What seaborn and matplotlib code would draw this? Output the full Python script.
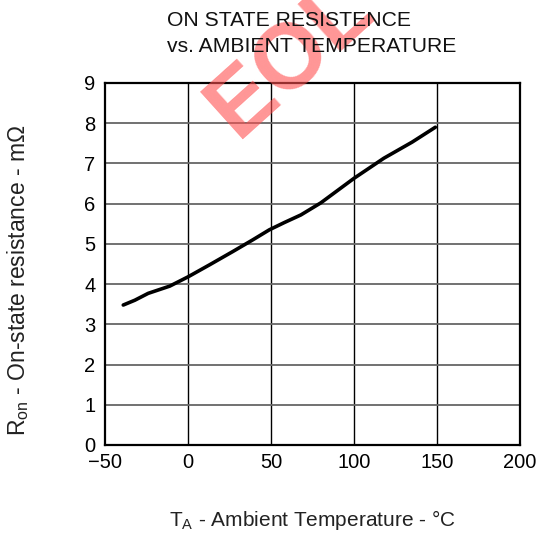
import matplotlib
matplotlib.use("Agg")
import matplotlib.pyplot as plt
import seaborn as sns
import pandas as pd

temperature = [-39, -32, -24, -11, 0, 13, 27, 39, 49, 58, 68, 80, 100, 118, 135, 149]
resistance = [3.48, 3.60, 3.77, 3.95, 4.18, 4.48, 4.81, 5.10, 5.35, 5.53, 5.72, 6.02, 6.63, 7.13, 7.53, 7.90]
x_ticks = [-50, 0, 50, 100, 150, 200]
x_tick_labels = ["\u221250", "0", "50", "100", "150", "200"]
y_ticks = [0, 1, 2, 3, 4, 5, 6, 7, 8, 9]

sns.set_theme(style="white")
plt.rcParams['font.family'] = ['Liberation Sans', 'DejaVu Sans']
plt.rcParams['mathtext.fontset'] = 'custom'
plt.rcParams['mathtext.rm'] = 'Liberation Sans'

df = pd.DataFrame({"T": temperature, "R": resistance})

fig = plt.figure(figsize=(5.41, 5.41), dpi=100)
ax = fig.add_axes([105/541, (541-445)/541, (520-105)/541, (445-83)/541])

sns.lineplot(data=df, x="T", y="R", ax=ax, color="black", linewidth=2.6, sort=False)

ax.set_xlim(-50, 200)
ax.set_ylim(0, 9)
ax.set_xticks(x_ticks)
ax.set_xticklabels(x_tick_labels)
ax.set_yticks(y_ticks)
ax.tick_params(axis="both", length=0, labelsize=14.5, colors="black")
ax.tick_params(axis="x", pad=6)
ax.tick_params(axis="y", pad=7)
for x in x_ticks[1:-1]:
    ax.axvline(x, color="black", linewidth=1.0, zorder=1)
for y in y_ticks[1:-1]:
    ax.axhline(y, color="#666666", linewidth=1.3, zorder=1)
for s in ax.spines.values():
    s.set_color("black")
    s.set_linewidth(1.6)

ax.set_xlabel("")
ax.set_ylabel("")
fig.text(312/541, 1 - 520/541, r"T$_\mathregular{A}$ - Ambient Temperature - °C",
         ha="center", va="center", fontsize=15, color="#222222")
fig.text(18/541, 1 - 280/541, "R$_\\mathregular{on}$ - On-state resistance - m\u03a9",
         ha="center", va="center", rotation=90, fontsize=16.5, color="#222222")

fig.text(167/541, 1 - 20/541, "ON STATE RESISTENCE", ha="left", va="center",
         fontsize=15.2, color="#111111", zorder=12)
fig.text(167/541, 1 - 46/541, "vs. AMBIENT TEMPERATURE", ha="left", va="center",
         fontsize=15.2, color="#111111", zorder=12)

fig.text(291/541, 1 - 58/541, "EOL", ha="center", va="center", rotation=42,
         fontsize=66, fontweight="bold", color="#ff5050", alpha=0.6, zorder=10)

fig.savefig("out.png", dpi=100)
